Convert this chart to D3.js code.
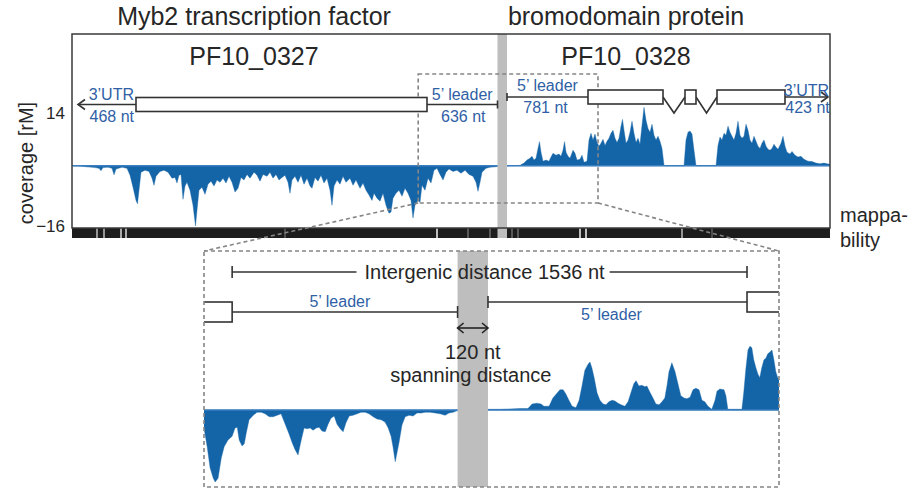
<!DOCTYPE html>
<html>
<head>
<meta charset="utf-8">
<script src="https://cdn.jsdelivr.net/npm/d3@7"></script>
<style>
  body { margin: 0; background: #fff; }
  svg { display: block; font-family: "Liberation Sans", Arial, Helvetica, sans-serif; }
</style>
</head>
<body>
<svg id="chart" width="914" height="489"></svg>
<script>
// ---------------- data ----------------
// genomic coordinates in nt along the locus
const locusDomain = [0, 7580];
const zoomWindow = [3462, 5260];

const geneIds = ["PF10_0327", "PF10_0328"];
const geneProducts = ["Myb2 transcription factor", "bromodomain protein"];

// PF10_0327 (minus strand) and PF10_0328 (plus strand)
const exons0327 = [[640, 3550]];
const exons0328 = [[5160, 5910], [6130, 6240], [6450, 7130]];
const utr3Ends = [60, 7560];          // 3' ends of the two transcripts
const leaderStarts = [4255, 4350];    // transcription start sites (5' leader ends)
const utrLengths = ["468 nt", "423 nt"];
const leaderLengths = ["636 nt", "781 nt"];

const intergenicSpan = [3550, 5160];
const intergenicLabel = "Intergenic distance 1536 nt";
const spanningLabel = ["120 nt", "spanning distance"];

// strand-specific coverage [rM]; negative = minus strand
const coverage = [
  [0,0],[80,-0.1],[150,-0.3],[230,-0.5],[270,-0.7],[290,-1.3],[310,-0.5],[360,-0.4],[400,-0.7],[420,-2.4],
  [440,-0.9],[500,-0.4],[550,-0.7],[580,-2.5],[610,-5.7],[640,-9.2],[655,-10.1],[670,-6.5],[690,-1.7],[730,-1.2],
  [770,-1.5],[800,-3.3],[820,-5.2],[840,-2.8],[880,-1.5],[920,-1.2],[960,-1.7],[1000,-3.3],[1030,-3.1],[1050,-4.6],
  [1070,-2.5],[1090,-2.3],[1110,-8.9],[1130,-5.4],[1150,-4.4],[1180,-6.5],[1210,-10.5],[1235,-16],[1250,-11.8],[1270,-6.5],
  [1300,-5.7],[1330,-7.6],[1360,-4.9],[1390,-4.1],[1420,-5.4],[1450,-3.8],[1480,-4.4],[1510,-3.3],[1540,-4.6],[1570,-2.8],
  [1600,-4.4],[1630,-7.0],[1660,-6.0],[1690,-3.1],[1720,-3.8],[1750,-2.3],[1780,-3.3],[1820,-1.7],[1850,-2.5],[1880,-4.1],
  [1910,-2.3],[1950,-2.8],[1980,-1.7],[2010,-3.3],[2040,-2.3],[2070,-3.8],[2100,-3.1],[2130,-2.5],[2160,-4.4],[2180,-7.3],
  [2200,-3.8],[2230,-2.8],[2260,-4.4],[2290,-2.5],[2320,-4.9],[2350,-3.3],[2380,-5.4],[2400,-6.0],[2430,-3.1],[2460,-4.1],
  [2490,-2.5],[2520,-4.6],[2550,-3.3],[2580,-6.5],[2600,-10.5],[2620,-5.4],[2650,-3.8],[2680,-4.9],[2710,-2.8],[2740,-4.4],
  [2780,-3.3],[2810,-5.2],[2840,-3.8],[2880,-6.0],[2910,-4.6],[2940,-6.5],[2970,-7.8],[3000,-9.2],[3020,-7.3],[3050,-8.6],
  [3080,-9.4],[3110,-7.3],[3140,-10.5],[3170,-12.6],[3190,-12.3],[3210,-8.6],[3240,-7.3],[3270,-6.5],[3300,-8.1],[3330,-6.0],
  [3360,-7.3],[3390,-9.2],[3410,-13.9],[3430,-10.5],[3460,-9.2],[3480,-9.7],[3500,-5.2],[3530,-6.5],[3560,-3.3],[3590,-4.6],
  [3620,-1.2],[3650,-0.7],[3680,-2.3],[3710,-3.8],[3740,-1.7],[3770,-0.9],[3810,-1.5],[3850,-1.2],[3890,-2.0],[3930,-1.2],
  [3970,-2.3],[4010,-2.8],[4040,-4.4],[4060,-6.8],[4080,-4.4],[4100,-1.7],[4140,-0.7],[4180,-0.4],[4230,-0.3],[4280,-0.1],
  [4380,0],[4480,0.1],[4520,0.7],[4550,1.5],[4580,2.0],[4600,2.5],[4620,1.5],[4640,2.0],[4660,4.6],[4675,6.4],
  [4690,3.6],[4710,1.2],[4740,1.5],[4770,1.2],[4790,2.3],[4810,3.3],[4840,2.8],[4870,3.1],[4890,2.5],[4910,4.1],
  [4925,6.4],[4940,3.6],[4960,2.5],[4980,2.0],[5010,4.1],[5030,3.3],[5050,1.5],[5080,1.7],[5100,2.8],[5120,0.9],
  [5150,1.2],[5170,6.8],[5190,8.6],[5210,6.8],[5230,8.4],[5250,6.2],[5270,5.2],[5290,6.0],[5310,7.0],[5330,5.4],
  [5350,6.5],[5370,7.3],[5390,8.6],[5410,9.4],[5430,7.3],[5450,6.2],[5470,7.3],[5490,10.5],[5505,12.3],[5520,9.4],
  [5540,6.0],[5560,6.8],[5580,8.9],[5600,11.8],[5620,8.6],[5640,6.2],[5660,7.3],[5680,5.7],[5700,10.7],[5720,15.5],
  [5740,12.1],[5760,9.9],[5780,8.9],[5800,11.0],[5820,8.1],[5840,6.8],[5860,7.8],[5880,6.5],[5900,4.6],[5920,0.1],
  [5940,0],[6120,0],[6140,6.8],[6160,8.9],[6180,9.2],[6200,8.4],[6220,4.1],[6240,0],[6440,0],[6460,5.4],
  [6480,7.6],[6500,6.8],[6520,8.6],[6540,8.1],[6560,10.5],[6580,8.9],[6600,7.8],[6620,6.8],[6640,8.6],[6660,11.8],
  [6680,8.1],[6700,7.3],[6720,7.8],[6740,11.0],[6760,9.4],[6780,6.8],[6800,6.0],[6820,7.8],[6840,6.5],[6860,5.2],
  [6880,4.6],[6900,6.0],[6920,6.8],[6940,5.2],[6960,4.4],[6980,4.1],[7000,4.6],[7020,5.7],[7040,4.9],[7060,4.4],
  [7090,6.0],[7110,7.8],[7130,5.2],[7150,3.6],[7180,3.1],[7200,3.8],[7230,2.8],[7260,2.3],[7290,2.5],[7320,1.7],
  [7360,1.2],[7400,1.1],[7440,0.7],[7480,0.5],[7520,0.7],[7550,0.5],[7580,0.4]
];

// finer-resolution coverage across the intergenic window
const zoomCoverage = [
  [3462,-2.4],[3472,-4.9],[3481,-7.7],[3491,-9.1],[3497,-9.6],[3506,-9.1],[3516,-6.4],[3525,-4.9],[3537,-4.0],[3550,-3.5],
  [3559,-2.4],[3566,-2.3],[3572,-4.0],[3581,-4.8],[3588,-4.5],[3594,-3.1],[3603,-1.3],[3616,-0.7],[3628,-0.3],[3641,-0.3],
  [3653,-0.5],[3666,-0.9],[3678,-0.9],[3691,-0.7],[3703,-0.5],[3716,-1.9],[3728,-3.2],[3738,-4.4],[3747,-5.3],[3756,-6.0],
  [3766,-4.0],[3775,-2.4],[3784,-2.5],[3794,-2.4],[3803,-2.7],[3813,-2.4],[3822,-2.3],[3831,-2.8],[3841,-2.9],[3850,-1.9],
  [3859,-1.1],[3869,-0.8],[3878,-1.9],[3888,-2.5],[3897,-2.9],[3906,-1.7],[3916,-0.8],[3928,-0.7],[3941,-0.5],[3953,-0.3],
  [3966,-0.3],[3978,-0.5],[3991,-0.9],[4003,-1.2],[4016,-1.3],[4028,-1.6],[4038,-2.4],[4047,-3.5],[4053,-4.9],[4060,-6.9],
  [4066,-5.6],[4072,-4.3],[4081,-2.0],[4091,-0.9],[4103,-0.7],[4116,-0.8],[4128,-0.4],[4141,-0.4],[4153,-0.3],[4169,-0.3],
  [4185,-0.4],[4200,-0.5],[4216,-0.7],[4228,-0.4],[4241,-0.3],[4253,-0.1],[4269,0],[4357,0.1],[4388,0.1],[4419,0.15],
  [4450,0.2],[4475,0.2],[4488,0.8],[4503,0.9],[4516,0.8],[4525,0.5],[4541,0.5],[4553,1.6],[4563,2.1],[4575,2.7],
  [4585,2.7],[4594,2.1],[4603,1.3],[4613,0.5],[4625,0.3],[4635,1.3],[4644,3.2],[4653,5.3],[4663,6.1],[4669,6.4],
  [4675,5.6],[4682,4.3],[4691,2.3],[4700,1.3],[4710,0.8],[4719,0.7],[4728,1.1],[4738,1.3],[4747,1.2],[4757,0.9],
  [4766,0.7],[4778,0.5],[4788,1.1],[4797,2.3],[4806,3.5],[4813,3.9],[4822,3.2],[4831,3.3],[4841,3.1],[4847,3.2],
  [4856,2.4],[4866,1.6],[4875,0.8],[4885,0.7],[4894,1.1],[4903,1.6],[4910,3.3],[4916,5.1],[4925,6.3],[4935,5.1],
  [4944,3.5],[4953,1.9],[4963,1.6],[4972,1.5],[4982,1.7],[4991,2.7],[5000,2.9],[5010,2.7],[5019,1.3],[5028,1.1],
  [5038,0.5],[5050,0.1],[5060,1.3],[5066,2.5],[5075,2.8],[5088,2.7],[5094,1.9],[5100,0.1],[5122,0.1],[5144,0.1],
  [5150,2.4],[5156,5.3],[5163,8.0],[5169,8.5],[5175,8.3],[5181,6.7],[5188,5.6],[5194,4.8],[5200,4.3],[5206,5.6],
  [5213,6.7],[5219,6.9],[5225,7.5],[5231,7.7],[5238,8.0],[5244,6.7],[5250,5.1],[5256,4.3],[5260,4.0]
];

// positions of reduced mappability (position, strength 0-1)
const lowMappability = [
  [250,0.6],[320,0.6],[490,0.7],[540,0.7],[2130,0.25],[3650,0.8],[3960,0.3],[4180,0.3],
  [4400,0.3],[4460,0.3],[5080,0.8],[5140,0.8],[6100,0.6],[6400,0.25]
];

const yTicks = [14, -16];

// ---------------- layout ----------------
const svg = d3.select("#chart");
const BLUE = "#1464a8", LABEL_BLUE = "#2f5fa6", INK = "#262626", GRID = "#858585";
const frame = {l: 72, r: 830, t: 34, b: 228, mapB: 238};
const zoomBox = {l: 204, r: 779, t: 251, b: 487};
const zoomSrc = {t: 74, b: 203};

const x = d3.scaleLinear().domain(locusDomain).range([frame.l, frame.r]);
const y = d3.scaleLinear().domain([-16, 14]).range([226, 113]);
const xz = d3.scaleLinear().domain(zoomWindow).range([zoomBox.l, zoomBox.r]);
const yz = d3.scaleLinear().domain([-10, 9]).range([485, 342.5]);

const defs = svg.append("defs");
defs.append("clipPath").attr("id", "clipTop").append("rect")
  .attr("x", frame.l).attr("y", frame.t).attr("width", frame.r - frame.l).attr("height", frame.b - frame.t);
defs.append("clipPath").attr("id", "clipZoom").append("rect")
  .attr("x", zoomBox.l).attr("y", zoomBox.t).attr("width", zoomBox.r - zoomBox.l).attr("height", zoomBox.b - zoomBox.t);

// ---------- titles ----------
const titleX = [254, 626];
svg.selectAll("text.product").data(geneProducts).join("text")
  .attr("class", "product").attr("x", (d, i) => titleX[i]).attr("y", 25)
  .attr("text-anchor", "middle").attr("font-size", 25).attr("fill", INK).text(d => d);
svg.selectAll("text.geneid").data(geneIds).join("text")
  .attr("class", "geneid").attr("x", (d, i) => titleX[i]).attr("y", 65)
  .attr("text-anchor", "middle").attr("font-size", 25).attr("fill", INK).text(d => d);

// ---------- overview coverage panel ----------
const overview = svg.append("g");
const areaTop = d3.area().x(d => x(d[0])).y0(y(0)).y1(d => y(d[1]));
overview.append("path").datum(coverage).attr("clip-path", "url(#clipTop)")
  .attr("d", areaTop).attr("fill", BLUE).attr("stroke", BLUE).attr("stroke-width", 0.4);
overview.append("line").attr("x1", frame.l).attr("x2", frame.r).attr("y1", y(0)).attr("y2", y(0))
  .attr("stroke", "#3b7fc0").attr("stroke-width", 1.3);

// mappability track
overview.append("rect").attr("x", frame.l).attr("y", frame.b).attr("width", frame.r - frame.l)
  .attr("height", frame.mapB - frame.b).attr("fill", "#1d1d1d");
overview.selectAll("rect.map").data(lowMappability).join("rect").attr("class", "map")
  .attr("x", d => x(d[0]) - 1).attr("y", frame.b).attr("width", 2).attr("height", frame.mapB - frame.b)
  .attr("fill", d => d3.interpolateRgb("#1d1d1d", "#e6e6e6")(d[1]));

// spanning-distance band
overview.append("rect").attr("x", x(leaderStarts[0])).attr("y", frame.t)
  .attr("width", x(leaderStarts[1]) - x(leaderStarts[0])).attr("height", frame.mapB - frame.t)
  .attr("fill", "#bdbebd");

// y axis
const yAxis = d3.axisLeft(y).tickValues(yTicks).tickSize(0).tickPadding(7).tickFormat(d3.format("d"));
const ag = overview.append("g").attr("transform", `translate(${frame.l},0)`).call(yAxis);
ag.select(".domain").remove();
ag.selectAll("text").attr("font-size", 17).attr("fill", INK)
  .attr("font-family", "'Liberation Sans', Arial, sans-serif");
svg.append("text").attr("transform", "translate(33,163) rotate(-90)")
  .attr("text-anchor", "middle").attr("font-size", 20).attr("fill", INK).text("coverage [rM]");
svg.append("text").attr("x", 840).attr("y", 222).attr("font-size", 20).attr("fill", INK).text("mappa-");
svg.append("text").attr("x", 840).attr("y", 247).attr("font-size", 20).attr("fill", INK).text("bility");

// zoomed region outline and connectors
const dash = {stroke: GRID, "stroke-width": 1.6, "stroke-dasharray": "4,3", fill: "none"};
function dashed(sel) { Object.entries(dash).forEach(([k, v]) => sel.attr(k, v)); return sel; }
dashed(overview.append("rect").attr("x", x(zoomWindow[0])).attr("y", zoomSrc.t)
  .attr("width", x(zoomWindow[1]) - x(zoomWindow[0])).attr("height", zoomSrc.b - zoomSrc.t));

// panel frame
overview.append("rect").attr("x", frame.l).attr("y", frame.t).attr("width", frame.r - frame.l)
  .attr("height", frame.b - frame.t).attr("fill", "none").attr("stroke", "#3a3a3a").attr("stroke-width", 1.5);

dashed(svg.append("line").attr("x1", x(zoomWindow[0])).attr("y1", zoomSrc.b).attr("x2", zoomBox.l).attr("y2", zoomBox.t));
dashed(svg.append("line").attr("x1", x(zoomWindow[1])).attr("y1", zoomSrc.b).attr("x2", zoomBox.r).attr("y2", zoomBox.t));

// ---------- gene models (overview) ----------
const gm = svg.append("g").attr("stroke", "#333").attr("stroke-width", 1.6).attr("fill", "none");
const lane = [104.5, 97];
const boxH = 14;

// PF10_0327 (minus strand): 3'UTR arrow on the left
gm.append("line").attr("x1", x(utr3Ends[0])).attr("x2", x(leaderStarts[0])).attr("y1", lane[0]).attr("y2", lane[0]);
gm.append("path").attr("d", `M${x(utr3Ends[0]) + 7},${lane[0] - 5}L${x(utr3Ends[0])},${lane[0]}L${x(utr3Ends[0]) + 7},${lane[0] + 5}`);
gm.append("line").attr("x1", x(leaderStarts[0])).attr("x2", x(leaderStarts[0])).attr("y1", lane[0] - 4).attr("y2", lane[0] + 4);
gm.selectAll("rect.e0").data(exons0327).join("rect").attr("class", "e0")
  .attr("x", d => x(d[0])).attr("width", d => x(d[1]) - x(d[0]))
  .attr("y", lane[0] - boxH / 2).attr("height", boxH).attr("fill", "#fff");

// PF10_0328 (plus strand)
gm.append("line").attr("x1", x(leaderStarts[1])).attr("x2", x(exons0328[0][0])).attr("y1", lane[1]).attr("y2", lane[1]);
gm.append("line").attr("x1", x(leaderStarts[1])).attr("x2", x(leaderStarts[1])).attr("y1", lane[1] - 4).attr("y2", lane[1] + 4);
const lastExon = exons0328[exons0328.length - 1];
gm.append("line").attr("x1", x(lastExon[1])).attr("x2", x(utr3Ends[1])).attr("y1", lane[1]).attr("y2", lane[1]);
gm.append("path").attr("d", `M${x(utr3Ends[1]) - 7},${lane[1] - 5}L${x(utr3Ends[1])},${lane[1]}L${x(utr3Ends[1]) - 7},${lane[1] + 5}`);
const introns = d3.pairs(exons0328).map(([a, b]) => [a[1], b[0]]);
gm.selectAll("path.intron").data(introns).join("path").attr("class", "intron")
  .attr("d", d => `M${x(d[0])},${lane[1]}L${(x(d[0]) + x(d[1])) / 2},${lane[1] + 16}L${x(d[1])},${lane[1]}`);
gm.selectAll("rect.e1").data(exons0328).join("rect").attr("class", "e1")
  .attr("x", d => x(d[0])).attr("width", d => x(d[1]) - x(d[0]))
  .attr("y", lane[1] - boxH / 2).attr("height", boxH).attr("fill", "#fff");

// blue feature labels
const lab = svg.append("g").attr("fill", LABEL_BLUE).attr("font-size", 16);
lab.append("text").attr("x", x(exons0327[0][0]) - 2).attr("y", lane[0] - 5).attr("text-anchor", "end").text("3\u2019UTR");
lab.append("text").attr("x", x(exons0327[0][0]) - 2).attr("y", lane[0] + 17).attr("text-anchor", "end").text(utrLengths[0]);
const mid0 = (x(exons0327[0][1]) + x(leaderStarts[0])) / 2;
lab.append("text").attr("x", mid0).attr("y", lane[0] - 5).attr("text-anchor", "middle").text("5\u2019 leader");
lab.append("text").attr("x", mid0 + 1).attr("y", lane[0] + 17).attr("text-anchor", "middle").text(leaderLengths[0]);
const mid1 = (x(leaderStarts[1]) + x(exons0328[0][0])) / 2;
lab.append("text").attr("x", mid1).attr("y", lane[1] - 6).attr("text-anchor", "middle").text("5\u2019 leader");
lab.append("text").attr("x", mid1 - 2).attr("y", lane[1] + 16).attr("text-anchor", "middle").text(leaderLengths[1]);
const mid2 = (x(lastExon[1]) + x(utr3Ends[1])) / 2;
lab.append("text").attr("x", mid2).attr("y", lane[1] - 1).attr("text-anchor", "middle").text("3\u2019UTR");
lab.append("text").attr("x", mid2 + 1).attr("y", lane[1] + 16).attr("text-anchor", "middle").text(utrLengths[1]);

// ---------- zoomed panel ----------
const zg = svg.append("g");
const areaZoom = d3.area().x(d => xz(d[0])).y0(yz(0)).y1(d => yz(d[1]));
zg.append("path").datum(zoomCoverage).attr("clip-path", "url(#clipZoom)")
  .attr("d", areaZoom).attr("fill", BLUE).attr("stroke", BLUE).attr("stroke-width", 0.4);
zg.append("line").attr("x1", zoomBox.l).attr("x2", zoomBox.r).attr("y1", yz(0)).attr("y2", yz(0))
  .attr("stroke", "#3b7fc0").attr("stroke-width", 1.3);
zg.append("rect").attr("x", xz(leaderStarts[0])).attr("y", zoomBox.t)
  .attr("width", xz(leaderStarts[1]) - xz(leaderStarts[0])).attr("height", zoomBox.b - zoomBox.t)
  .attr("fill", "#bdbebd");

const zm = zg.append("g").attr("stroke", "#333").attr("stroke-width", 1.6).attr("fill", "none")
  .attr("clip-path", "url(#clipZoom)");
const zl = [312, 302];
// left transcript: exon end + leader to TSS
zm.append("rect").attr("x", xz(exons0327[0][0])).attr("width", xz(exons0327[0][1]) - xz(exons0327[0][0]))
  .attr("y", zl[0] - 10).attr("height", 20).attr("fill", "#fff");
zm.append("line").attr("x1", xz(exons0327[0][1])).attr("x2", xz(leaderStarts[0])).attr("y1", zl[0]).attr("y2", zl[0]);
zm.append("line").attr("x1", xz(leaderStarts[0])).attr("x2", xz(leaderStarts[0])).attr("y1", zl[0] - 6).attr("y2", zl[0] + 6);
// right transcript: TSS + leader to first exon
zm.append("line").attr("x1", xz(leaderStarts[1])).attr("x2", xz(exons0328[0][0])).attr("y1", zl[1]).attr("y2", zl[1]);
zm.append("line").attr("x1", xz(leaderStarts[1])).attr("x2", xz(leaderStarts[1])).attr("y1", zl[1] - 6).attr("y2", zl[1] + 6);
zm.append("rect").attr("x", xz(exons0328[0][0])).attr("width", xz(exons0328[0][1]) - xz(exons0328[0][0]))
  .attr("y", zl[1] - 10).attr("height", 20).attr("fill", "#fff");

const zlab = zg.append("g").attr("fill", LABEL_BLUE).attr("font-size", 16).attr("text-anchor", "middle");
zlab.append("text").attr("x", (xz(exons0327[0][1]) + xz(leaderStarts[0])) / 2 - 5).attr("y", zl[0] - 5).text("5\u2019 leader");
zlab.append("text").attr("x", (xz(leaderStarts[1]) + xz(exons0328[0][0])) / 2 - 6).attr("y", zl[1] + 18).text("5\u2019 leader");

// intergenic distance bar with centred label
const iy = 272;
const itext = zg.append("text").attr("x", (xz(intergenicSpan[0]) + xz(intergenicSpan[1])) / 2 - 5).attr("y", iy + 7)
  .attr("text-anchor", "middle").attr("font-size", 20).attr("fill", INK).text(intergenicLabel);
const tw = itext.node().getComputedTextLength();
const tc = +itext.attr("x");
const ib = zg.append("g").attr("stroke", "#333").attr("stroke-width", 1.6);
ib.append("line").attr("x1", xz(intergenicSpan[0])).attr("x2", tc - tw / 2 - 8).attr("y1", iy).attr("y2", iy);
ib.append("line").attr("x1", tc + tw / 2 + 5).attr("x2", xz(intergenicSpan[1])).attr("y1", iy).attr("y2", iy);
ib.selectAll("line.tick").data(intergenicSpan).join("line").attr("class", "tick")
  .attr("x1", d => xz(d)).attr("x2", d => xz(d)).attr("y1", iy - 6).attr("y2", iy + 6);

// spanning distance double arrow
const ay = 328, a0 = xz(leaderStarts[0]), a1 = xz(leaderStarts[1]);
const arr = zg.append("g").attr("stroke", "#222").attr("stroke-width", 1.6).attr("fill", "none");
arr.append("line").attr("x1", a0).attr("x2", a1).attr("y1", ay).attr("y2", ay);
arr.append("path").attr("d", `M${a0 + 6},${ay - 5}L${a0},${ay}L${a0 + 6},${ay + 5}`);
arr.append("path").attr("d", `M${a1 - 6},${ay - 5}L${a1},${ay}L${a1 - 6},${ay + 5}`);
zg.append("text").attr("x", (a0 + a1) / 2).attr("y", 359).attr("text-anchor", "middle")
  .attr("font-size", 20).attr("fill", INK).text(spanningLabel[0]);
zg.append("text").attr("x", (a0 + a1) / 2 - 2).attr("y", 382).attr("text-anchor", "middle")
  .attr("font-size", 20).attr("fill", INK).text(spanningLabel[1]);

dashed(svg.append("rect").attr("x", zoomBox.l).attr("y", zoomBox.t)
  .attr("width", zoomBox.r - zoomBox.l).attr("height", zoomBox.b - zoomBox.t));
</script>
</body>
</html>
